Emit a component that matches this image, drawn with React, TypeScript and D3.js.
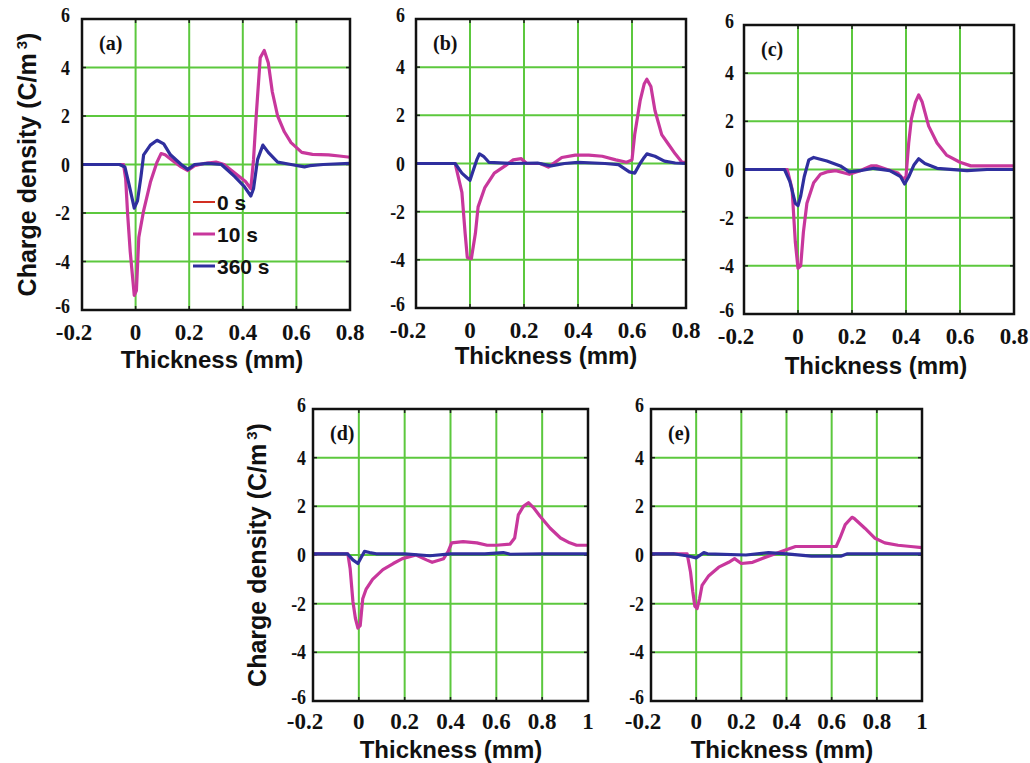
import React from 'react';
import * as d3 from 'd3';

// ---------- data ----------
const seriesNames = ['0 s', '10 s', '360 s'];
const seriesColors = ['#d22f22', '#c8379c', '#2f2f9e'];

const xTicksShort = [-0.2, 0, 0.2, 0.4, 0.6, 0.8];
const xTicksLong = [-0.2, 0, 0.2, 0.4, 0.6, 0.8, 1];
const yTicks = [-6, -4, -2, 0, 2, 4, 6];
const panelLabels = ['(a)', '(b)', '(c)', '(d)', '(e)'];
const xTitle = 'Thickness (mm)';
const yTitle = 'Charge density (C/m';

type P = [number, number];

const a10s: P[] = [[-0.2, 0], [-0.1, 0], [-0.045, 0], [-0.037, -0.6], [-0.03, -2], [-0.02, -3.6], [-0.01, -4.8], [-0.005, -5.4], [0.003, -5.2], [0.012, -3], [0.03, -1.9], [0.056, -0.7], [0.08, 0.1], [0.095, 0.45], [0.11, 0.4], [0.14, 0.15], [0.17, -0.1], [0.195, -0.25], [0.22, -0.05], [0.26, 0.05], [0.3, 0.1], [0.33, 0], [0.37, -0.35], [0.41, -0.7], [0.43, -1.0], [0.44, 0.2], [0.45, 2.0], [0.465, 4.4], [0.48, 4.7], [0.495, 4.2], [0.51, 3.0], [0.53, 2.0], [0.555, 1.35], [0.58, 0.9], [0.62, 0.5], [0.66, 0.42], [0.72, 0.4], [0.76, 0.35], [0.8, 0.3]];
const a360s: P[] = [[-0.2, 0], [-0.1, 0], [-0.06, 0], [-0.04, -0.1], [-0.025, -0.8], [-0.005, -1.8], [0.007, -1.5], [0.02, -0.5], [0.03, 0.4], [0.055, 0.8], [0.08, 1.0], [0.105, 0.85], [0.13, 0.4], [0.17, 0], [0.195, -0.2], [0.22, 0], [0.27, 0.05], [0.32, 0], [0.37, -0.5], [0.405, -0.9], [0.43, -1.3], [0.44, -1.0], [0.455, 0.2], [0.475, 0.8], [0.495, 0.5], [0.53, 0.1], [0.58, 0], [0.63, -0.1], [0.65, -0.05], [0.7, 0], [0.8, 0.05]];

const b10s: P[] = [[-0.2, 0], [-0.1, 0], [-0.055, 0], [-0.03, -1.2], [-0.018, -2.9], [-0.01, -3.9], [0.005, -3.95], [0.02, -2.9], [0.03, -1.8], [0.055, -1.0], [0.09, -0.4], [0.13, -0.1], [0.16, 0.15], [0.19, 0.2], [0.21, 0], [0.26, 0], [0.29, -0.15], [0.34, 0.25], [0.39, 0.35], [0.44, 0.35], [0.49, 0.3], [0.54, 0.15], [0.58, 0.05], [0.6, 0.15], [0.61, 1.2], [0.63, 2.6], [0.645, 3.3], [0.655, 3.5], [0.67, 3.2], [0.685, 2.2], [0.71, 1.2], [0.735, 0.8], [0.76, 0.4], [0.785, 0.05], [0.8, 0.05]];
const b360s: P[] = [[-0.2, 0], [-0.1, 0], [-0.055, 0], [-0.03, -0.4], [-0.01, -0.6], [0, -0.7], [0.01, -0.35], [0.025, 0.15], [0.035, 0.4], [0.05, 0.3], [0.07, 0.05], [0.15, 0], [0.25, 0.02], [0.3, -0.1], [0.35, 0], [0.4, 0.05], [0.5, 0], [0.55, -0.05], [0.59, -0.35], [0.61, -0.4], [0.63, 0], [0.645, 0.25], [0.655, 0.4], [0.685, 0.3], [0.72, 0.1], [0.76, 0.02], [0.8, 0]];

const c10s: P[] = [[-0.2, 0], [-0.1, 0], [-0.04, 0], [-0.022, -0.8], [-0.01, -3], [0, -4.1], [0.01, -4], [0.02, -2.6], [0.033, -1.4], [0.058, -0.55], [0.083, -0.2], [0.107, -0.1], [0.14, -0.05], [0.19, -0.2], [0.23, -0.05], [0.27, 0.15], [0.29, 0.15], [0.33, 0], [0.37, -0.15], [0.39, -0.4], [0.4, -0.3], [0.41, 1.1], [0.42, 2.1], [0.435, 2.8], [0.447, 3.1], [0.46, 2.8], [0.484, 1.8], [0.515, 1.1], [0.55, 0.6], [0.6, 0.3], [0.64, 0.15], [0.8, 0.15]];
const c360s: P[] = [[-0.2, 0], [-0.1, 0], [-0.05, 0], [-0.03, -0.5], [-0.01, -1.4], [0, -1.5], [0.01, -1.1], [0.023, -0.3], [0.04, 0.4], [0.058, 0.5], [0.107, 0.35], [0.157, 0.15], [0.19, -0.1], [0.23, -0.05], [0.28, 0.05], [0.34, -0.05], [0.38, -0.3], [0.395, -0.6], [0.41, -0.3], [0.43, 0.2], [0.447, 0.45], [0.47, 0.25], [0.515, 0.05], [0.626, -0.05], [0.7, 0], [0.8, 0]];

const d10s: P[] = [[-0.2, 0.05], [-0.1, 0.05], [-0.048, 0.05], [-0.038, -0.55], [-0.026, -1.9], [-0.015, -2.6], [-0.004, -3.0], [0.006, -2.9], [0.017, -1.8], [0.032, -1.4], [0.06, -1.0], [0.105, -0.6], [0.15, -0.35], [0.19, -0.15], [0.25, 0], [0.295, -0.2], [0.32, -0.3], [0.37, -0.15], [0.39, 0.15], [0.405, 0.5], [0.455, 0.55], [0.515, 0.5], [0.56, 0.4], [0.6, 0.4], [0.66, 0.45], [0.68, 0.7], [0.696, 1.65], [0.718, 2.0], [0.74, 2.15], [0.762, 1.95], [0.79, 1.6], [0.835, 1.1], [0.88, 0.7], [0.92, 0.5], [0.95, 0.4], [1.0, 0.4]];
const d360s: P[] = [[-0.2, 0.05], [-0.1, 0.05], [-0.05, 0.05], [-0.026, -0.2], [-0.004, -0.35], [0.01, -0.1], [0.025, 0.15], [0.047, 0.1], [0.076, 0.05], [0.2, 0.05], [0.31, -0.03], [0.4, 0.05], [0.55, 0.05], [0.63, 0.1], [0.66, 0.03], [0.8, 0.05], [1.0, 0.05]];

const e10s: P[] = [[-0.2, 0.05], [-0.1, 0.05], [-0.04, 0.05], [-0.025, -0.7], [-0.015, -1.5], [-0.006, -2.1], [0.004, -2.2], [0.015, -1.8], [0.026, -1.25], [0.056, -0.85], [0.1, -0.5], [0.144, -0.3], [0.17, -0.15], [0.2, -0.35], [0.25, -0.3], [0.29, -0.15], [0.335, 0], [0.38, 0.15], [0.44, 0.35], [0.5, 0.35], [0.555, 0.35], [0.62, 0.35], [0.637, 0.7], [0.66, 1.25], [0.69, 1.55], [0.7, 1.5], [0.747, 1.1], [0.79, 0.7], [0.835, 0.5], [0.894, 0.4], [0.95, 0.35], [1.0, 0.3]];
const e360s: P[] = [[-0.2, 0.05], [-0.1, 0.05], [-0.03, -0.05], [0, -0.12], [0.034, 0.1], [0.05, 0.05], [0.22, 0], [0.32, 0.1], [0.4, 0.05], [0.51, -0.05], [0.64, -0.05], [0.67, 0.05], [0.8, 0.05], [1.0, 0.05]];

// ---------- layout ----------
type Panel = {
  label: string; left: number; right: number; top: number; bottom: number;
  xMax: number; ticks: number[]; m: P[]; b: P[];
  yTitleX?: number; legend?: boolean;
  tickLabelY: number; titleX: number; titleY: number; yGap: number;
};

const panels: Panel[] = [
  { label: panelLabels[0], left: 82, right: 350, top: 19, bottom: 310, xMax: 0.8, ticks: xTicksShort, m: a10s, b: a360s, yTitleX: 36, legend: true, tickLabelY: 332, titleX: 212, titleY: 368, yGap: 12 },
  { label: panelLabels[1], left: 416, right: 686, top: 19, bottom: 308, xMax: 0.8, ticks: xTicksShort, m: b10s, b: b360s, tickLabelY: 330, titleX: 546, titleY: 364, yGap: 11 },
  { label: panelLabels[2], left: 744, right: 1014, top: 25, bottom: 314, xMax: 0.8, ticks: xTicksShort, m: c10s, b: c360s, tickLabelY: 336, titleX: 876, titleY: 374, yGap: 10 },
  { label: panelLabels[3], left: 313, right: 588, top: 409, bottom: 701, xMax: 1, ticks: xTicksLong, m: d10s, b: d360s, yTitleX: 266, tickLabelY: 721, titleX: 451, titleY: 758, yGap: 7 },
  { label: panelLabels[4], left: 651, right: 922, top: 409, bottom: 701, xMax: 1, ticks: xTicksLong, m: e10s, b: e360s, tickLabelY: 721, titleX: 782, titleY: 758, yGap: 7 },
];

const GRID = '#5cc83e';
const serif = '"Liberation Serif", "Times New Roman", serif';
const sans = '"Liberation Sans", Arial, sans-serif';

function fmt(v: number) {
  return String(v);
}

function yLabelShift(t: number) {
  if (t === 6) return -4;
  if (t === -6) return -4;
  return 0;
}

function PanelView({ p }: { p: Panel }) {
  const x = d3.scaleLinear().domain([-0.2, p.xMax]).range([p.left, p.right]);
  const y = d3.scaleLinear().domain([-6, 6]).range([p.bottom, p.top]);
  const line = d3.line<P>().x(d => x(d[0])).y(d => y(d[1])).curve(d3.curveLinear);
  const cy = (p.top + p.bottom) / 2;
  return (
    <g>
      <rect x={p.left} y={p.top} width={p.right - p.left} height={p.bottom - p.top} fill="#fff" />
      {p.ticks.map(t => (
        <line key={'gx' + t} x1={x(t)} x2={x(t)} y1={p.top} y2={p.bottom} stroke={GRID} strokeWidth={2} />
      ))}
      {yTicks.map(t => (
        <line key={'gy' + t} x1={p.left} x2={p.right} y1={y(t)} y2={y(t)} stroke={GRID} strokeWidth={2} />
      ))}
      {p.ticks.map(t => (
        <g key={'tx' + t}>
          <line x1={x(t)} x2={x(t)} y1={p.bottom} y2={p.bottom - 4} stroke="#222" strokeWidth={1.5} />
          <line x1={x(t)} x2={x(t)} y1={p.top} y2={p.top + 4} stroke="#222" strokeWidth={1.5} />
        </g>
      ))}
      {yTicks.map(t => (
        <g key={'ty' + t}>
          <line x1={p.left} x2={p.left + 4} y1={y(t)} y2={y(t)} stroke="#222" strokeWidth={1.5} />
          <line x1={p.right} x2={p.right - 4} y1={y(t)} y2={y(t)} stroke="#222" strokeWidth={1.5} />
        </g>
      ))}
      <path d={line(p.m) || ''} fill="none" stroke={seriesColors[1]} strokeWidth={3.2} strokeLinejoin="round" />
      <path d={line(p.b) || ''} fill="none" stroke={seriesColors[2]} strokeWidth={3.2} strokeLinejoin="round" />
      <rect x={p.left} y={p.top} width={p.right - p.left} height={p.bottom - p.top} fill="none" stroke="#111" strokeWidth={2.5} />
      <text x={p.left + 17} y={p.top + 31} fontFamily={serif} fontWeight="bold" fontSize={20} fill="#111">{p.label}</text>
      {yTicks.map(t => (
        <g key={'ly' + t} transform={`translate(${p.left - p.yGap},${y(t) + yLabelShift(t)}) scale(0.85,1)`}>
          <text textAnchor="end" dominantBaseline="central" fontFamily={serif} fontWeight="bold" fontSize={21} fill="#111">{fmt(t)}</text>
        </g>
      ))}
      {p.ticks.map(t => (
        <text key={'lx' + t} x={x(t) - (t === -0.2 ? 8 : 0)} y={p.tickLabelY} textAnchor="middle" dominantBaseline="central" fontFamily={serif} fontWeight="bold" fontSize={23} fill="#111">{fmt(t)}</text>
      ))}
      <text x={p.titleX} y={p.titleY} textAnchor="middle" fontFamily={sans} fontWeight="bold" fontSize={24} fill="#111">{xTitle}</text>
      {p.yTitleX !== undefined && (
        <text transform={`translate(${p.yTitleX},${cy}) rotate(-90)`} textAnchor="middle" fontFamily={sans} fontWeight="bold" fontSize={25} fill="#111">
          {yTitle}
          <tspan dx={4} dy={-9} fontSize={15}>3</tspan>
          <tspan dy={9}>)</tspan>
        </text>
      )}
      {p.legend && seriesNames.map((n, i) => {
        const ly = 202 + i * 32;
        return (
          <g key={n}>
            <line x1={193} x2={215} y1={ly} y2={ly} stroke={seriesColors[i]} strokeWidth={i === 0 ? 2 : 3} />
            <text x={217} y={ly} dominantBaseline="central" fontFamily={sans} fontWeight="bold" fontSize={21} fill="#111">{n}</text>
          </g>
        );
      })}
    </g>
  );
}

export default function App() {
  return (
    <svg width={1030} height={763} style={{ position: 'absolute', left: 0, top: 0, background: '#fff' }}>
      <rect x={0} y={0} width={1030} height={763} fill="#fff" />
      {panels.map(p => <PanelView key={p.label} p={p} />)}
    </svg>
  );
}
